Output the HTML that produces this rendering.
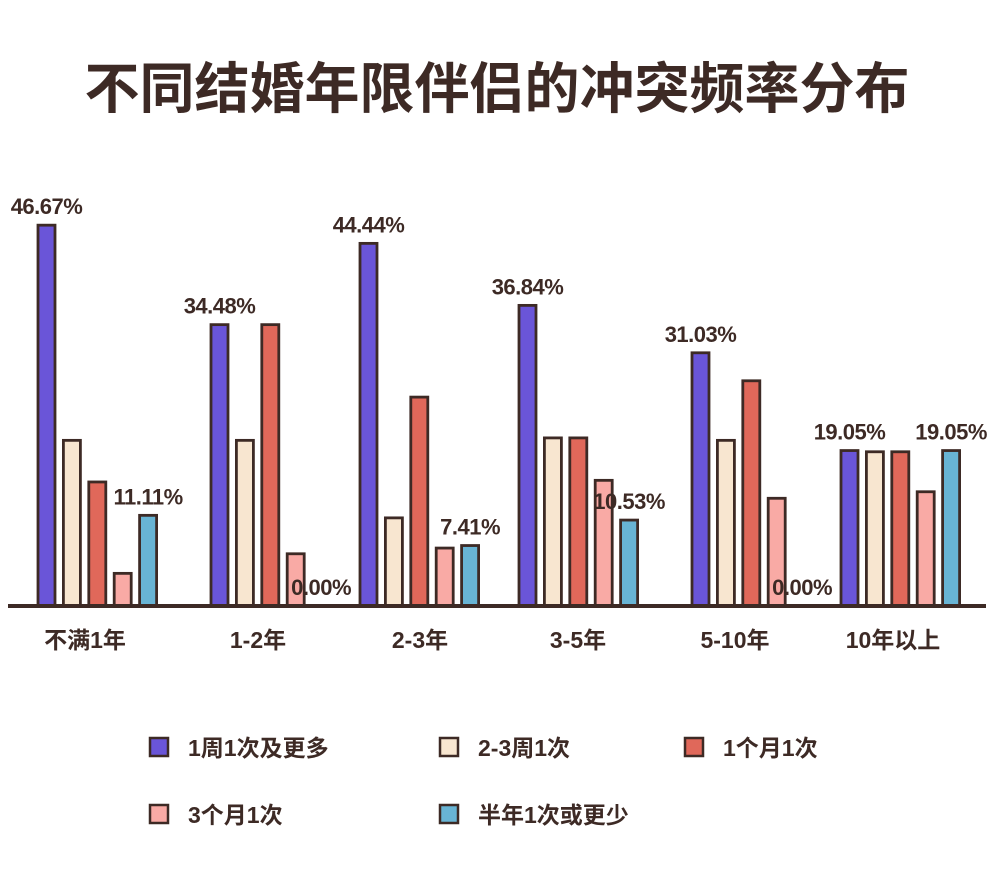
<!DOCTYPE html>
<html><head><meta charset="utf-8"><style>
body{margin:0;background:#fff;width:1000px;height:891px;overflow:hidden;font-family:"Liberation Sans","Noto Sans CJK SC",sans-serif;}
svg text{font-family:"Liberation Sans","Noto Sans CJK SC",sans-serif;fill:#3d2a25;font-weight:bold;}
</style></head><body>
<svg id="chart" width="1000" height="891">
<text x="497" y="108" text-anchor="middle" font-size="55">不同结婚年限伴侣的冲突频率分布</text>
<g id="bars"></g>
<line x1="8" y1="606" x2="986" y2="606" stroke="#3d2a25" stroke-width="4"/>
<g id="legend"></g>
</svg>
<script>
const categories=["不满1年","1-2年","2-3年","3-5年","5-10年","10年以上"];
const seriesNames=["1周1次及更多","2-3周1次","1个月1次","3个月1次","半年1次或更少"];
const s1=[46.67,34.48,44.44,36.84,31.03,19.05];
const s2=[20.30,20.30,10.80,20.60,20.30,18.90];
const s3=[15.20,34.48,25.60,20.60,27.60,18.90];
const s4=[4.00,6.40,7.10,15.40,13.20,14.00];
const s5=[11.11,0.00,7.41,10.53,0.00,19.05];
const series=[s1,s2,s3,s4,s5];
const colors=["#6a55d8","#f8e6d0","#e0685a","#f9aaa5","#68b4d4"];
const groupX=[37,210,359,518,691,840];
const labelX=[85,258,420,578,735,893];
const base=606,k=8.16,step=25.4,bw=19;
const y=v=>base-v*k;
const ns="http://www.w3.org/2000/svg";
const gb=document.getElementById('bars');
function mk(t,a,p){const e=document.createElementNS(ns,t);for(const q in a)e.setAttribute(q,a[q]);p.appendChild(e);return e;}
categories.forEach((c,i)=>{
  series.forEach((s,j)=>{
    const v=s[i];const x=groupX[i]+j*step;
    if(v>0){
      const r=mk('rect',{x:x+1,y:y(v),width:bw-2,height:base-y(v),fill:colors[j],stroke:'#3d2a25','stroke-width':2.8},gb);
      
      
    }
    if(j===0||j===4){
      const t=mk('text',{x:x+bw/2,y:y(v)-11,'text-anchor':'middle','font-size':22,'letter-spacing':'-0.5'},gb);
      t.textContent=v.toFixed(2)+'%';
      
      
    }
  });
  const cl=mk('text',{x:labelX[i],y:648,'text-anchor':'middle','font-size':23},gb);
  cl.textContent=c;
  
  
});
const lg=document.getElementById('legend');
const lp=[[150,748],[440,748],[685,748],[150,815],[440,815]];
seriesNames.forEach((n,j)=>{
  const r=mk('rect',{x:lp[j][0],y:lp[j][1]-10,width:18,height:18,fill:colors[j],stroke:'#3d2a25','stroke-width':2.5},lg);
  
  
  const t=mk('text',{x:lp[j][0]+38,y:lp[j][1]+8,'font-size':23},lg);
  t.textContent=n;
  
  
});
</script>
</body></html>
